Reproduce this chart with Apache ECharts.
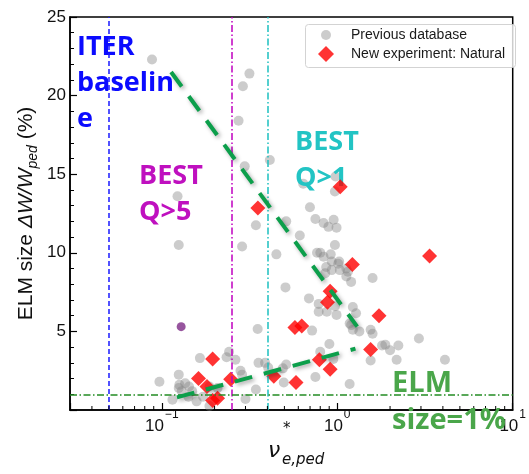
<!DOCTYPE html>
<html>
<head>
<meta charset="utf-8">
<script src="https://cdn.jsdelivr.net/npm/echarts@6/dist/echarts.min.js"></script>
<style>
  html, body { margin: 0; padding: 0; background: #fff; }
  #chart { width: 529px; height: 474px; }
</style>
</head>
<body>
<div id="chart"></div>
<script>
// ELM size vs pedestal collisionality: [nu*_e,ped, ELM size in %]
const previousDatabase = [
  [0.088, 22.3], [0.316, 21.4], [0.290, 20.6], [0.274, 18.4], [0.297, 15.5], [0.413, 15.9],
  [0.123, 13.6], [0.344, 11.75], [0.125, 10.5], [0.287, 10.4],
  [0.978, 14.85], [0.97, 13.9], [0.64, 14.4], [0.699, 12.9], [0.751, 12.15], [0.836, 11.9],
  [0.891, 11.65], [0.954, 12.1], [0.991, 11.6], [0.612, 11.1], [0.512, 12.0],
  [0.45, 9.9], [0.97, 10.5], [0.801, 10.0], [0.767, 10.0], [0.836, 9.75], [0.918, 9.9],
  [0.93, 9.45], [1.026, 9.45], [0.865, 9.1], [0.93, 8.9], [1.035, 8.9], [0.854, 8.7],
  [1.15, 8.8], [1.59, 8.4], [1.013, 9.3], [1.127, 9.0], [1.127, 8.5], [1.2, 8.15],
  [0.507, 7.8], [0.69, 7.1], [0.784, 6.75], [0.97, 6.6], [0.784, 6.25], [0.872, 6.25],
  [0.991, 6.05], [1.227, 6.55], [1.28, 6.15], [1.177, 5.5], [1.2, 5.4], [1.337, 5.0],
  [1.227, 5.1], [0.719, 5.05], [1.55, 5.1], [1.59, 4.85], [2.92, 4.55],
  [0.902, 4.2], [1.8, 4.1], [1.88, 4.15], [2.0, 3.8], [2.23, 4.1], [0.80, 3.7], [0.95, 3.25],
  [1.55, 3.15], [2.18, 3.2], [4.11, 3.2], [0.512, 2.9], [0.356, 3.0], [0.751, 2.1],
  [0.496, 1.75], [1.177, 1.65],
  [0.352, 5.15], [0.242, 3.7], [0.234, 3.35], [0.263, 3.2], [0.165, 3.3], [0.281, 2.5],
  [0.287, 2.25], [0.388, 3.0], [0.404, 2.7], [0.49, 2.65],
  [0.125, 2.25], [0.097, 1.8], [0.126, 1.6], [0.136, 1.7], [0.143, 1.5], [0.13, 1.2],
  [0.149, 1.2], [0.142, 0.85], [0.158, 0.55], [0.172, 0.85], [0.115, 0.65], [0.187, 0.25],
  [0.125, 1.4], [0.187, 1.5], [0.208, 1.4], [0.30, 0.7], [0.344, 1.3]
];

const naturalElms = [
  [1.04, 14.2], [0.353, 12.85], [3.36, 9.8], [1.22, 9.25], [0.911, 7.55], [0.88, 6.85],
  [1.73, 6.0], [0.574, 5.25], [0.628, 5.35], [1.55, 3.85], [0.791, 3.2], [0.911, 2.6],
  [0.435, 2.15], [0.582, 1.75], [0.195, 3.25], [0.162, 2.0], [0.181, 1.5], [0.195, 0.6],
  [0.208, 0.75], [0.247, 1.95]
];

const highlightedShot = [[0.129, 5.3]];

// Trend guides (start, end)
const trendDecreasing = [[0.113, 21.5], [1.3, 5.3]];
const trendIncreasing = [[0.122, 0.8], [1.27, 3.9]];

// Reference levels
const iterBaselineNu = 0.05;
const bestQ5Nu = 0.25;
const bestQ1Nu = 0.4;
const elmSizeLimit = 1;

// Axis ranges and ticks
const xRange = [0.03, 10];
const yRange = [0, 25];
const yTickStep = 5;
const xMinorTicks = [0.04, 0.05, 0.06, 0.07, 0.08, 0.09,
                     0.2, 0.3, 0.4, 0.5, 0.6, 0.7, 0.8, 0.9,
                     2, 3, 4, 5, 6, 7, 8, 9];

const legendNames = ['Previous database', 'New experiment: Natural'];

const chart = echarts.init(document.getElementById('chart'));

function powerLabel(v) {
  const lg = Math.log10(v);
  const e = Math.round(lg);
  if (Math.abs(lg - e) > 1e-6) return '';
  return '{b|10}{sup|' + (e < 0 ? '\u2212' + (-e) : e) + '}';
}

const annoFont = '"Open Sans", "DejaVu Sans", sans-serif';
const labelFont = '"Liberation Sans", Arial, sans-serif';

chart.setOption({
  animation: false,
  backgroundColor: '#fff',
  grid: {
    left: 70, right: 8, top: 17, bottom: 64,
    show: true, borderColor: '#000', borderWidth: 1.5, backgroundColor: 'transparent'
  },
  legend: [
    {
      data: [{ name: legendNames[0], icon: 'circle' }],
      selectedMode: false,
      left: 321, top: 27, padding: 0,
      itemWidth: 10, itemHeight: 10,
      textStyle: { fontSize: 14, fontFamily: labelFont, color: '#1a1a1a', padding: [0, 0, 0, 15], lineHeight: 16 }
    },
    {
      data: [{ name: legendNames[1], icon: 'diamond' }],
      selectedMode: false,
      left: 318, top: 46, padding: 0,
      itemWidth: 16, itemHeight: 16,
      textStyle: { fontSize: 14, fontFamily: labelFont, color: '#1a1a1a', padding: [0, 0, 0, 12], lineHeight: 16 }
    }
  ],
  xAxis: {
    type: 'log', logBase: 10, min: xRange[0], max: xRange[1],
    axisLine: { lineStyle: { color: '#000', width: 1.5 } },
    axisTick: { inside: true, length: 7, lineStyle: { color: '#000', width: 1.2 } },
    splitLine: { show: false },
    axisLabel: {
      formatter: powerLabel, margin: -2, color: '#111',
      fontFamily: labelFont,
      rich: {
        b: { fontSize: 17, lineHeight: 36, fontFamily: labelFont, color: '#111' },
        sup: { fontSize: 12, verticalAlign: 'top', lineHeight: 12, fontFamily: labelFont, color: '#111', padding: [1, 0, 0, 1] }
      }
    }
  },
  yAxis: {
    type: 'value', min: yRange[0], max: yRange[1], interval: yTickStep,
    axisLine: { show: true, lineStyle: { color: '#000', width: 1.5 } },
    axisTick: { show: true, inside: true, length: 7, lineStyle: { color: '#000', width: 1.2 } },
    minorTick: { show: true, splitNumber: 5, length: 4, lineStyle: { color: '#000', width: 1 } },
    splitLine: { show: false },
    axisLabel: {
      showMinLabel: false, margin: 4, fontSize: 17, color: '#111',
      fontFamily: labelFont,
      formatter: v => (v === 0 ? '' : String(v))
    },
    name: 'ELM size {it|\u0394W/W}{sub|ped} (%)',
    nameLocation: 'middle', nameRotate: 90, nameGap: 30, nameMoveOverlap: false,
    nameTextStyle: {
      fontSize: 21, color: '#111', fontFamily: labelFont, lineHeight: 27,
      rich: {
        it: { fontSize: 21, fontStyle: 'italic', color: '#111', fontFamily: labelFont },
        sub: { fontSize: 14, fontStyle: 'italic', verticalAlign: 'bottom', color: '#111', fontFamily: labelFont }
      }
    }
  },
  series: [
    {
      name: legendNames[0], type: 'scatter', data: previousDatabase,
      symbol: 'circle', symbolSize: 10, z: 2,
      itemStyle: { color: 'rgba(128,128,128,0.5)' }
    },
    {
      name: 'Highlighted shot', type: 'scatter', data: highlightedShot,
      symbol: 'circle', symbolSize: 9, z: 2,
      itemStyle: { color: '#7d2b86' },
      markLine: {
        silent: true, symbol: ['none', 'none'], label: { show: false },
        data: [
          { xAxis: iterBaselineNu, lineStyle: { color: '#1a1aff', type: [5, 3], width: 1.5 } },
          { xAxis: bestQ5Nu, lineStyle: { color: '#c000c0', type: [7, 2.5, 1.5, 2.5], width: 1.5 } },
          { xAxis: bestQ1Nu, lineStyle: { color: '#1cc0c0', type: [7, 2.5, 1.5, 2.5], width: 1.5 } },
          { yAxis: elmSizeLimit, lineStyle: { color: '#238c23', type: [7, 2.5, 1.5, 2.5], width: 1.5 } }
        ]
      }
    },
    {
      name: legendNames[1], type: 'scatter', data: naturalElms,
      symbol: 'diamond', symbolSize: [15, 15], z: 4,
      itemStyle: { color: '#ff0000' }
    },
    {
      name: 'Trend decreasing', type: 'line', data: trendDecreasing, symbol: 'none', z: 5, silent: true,
      lineStyle: { color: '#0c9f4b', width: 4, type: [18, 12], shadowColor: 'rgba(0,0,0,0.35)', shadowBlur: 4, shadowOffsetX: 2, shadowOffsetY: 2 }
    },
    {
      name: 'Trend increasing', type: 'line', data: trendIncreasing, symbol: 'none', z: 5, silent: true,
      lineStyle: { color: '#0c9f4b', width: 4, type: [18, 12], shadowColor: 'rgba(0,0,0,0.35)', shadowBlur: 4, shadowOffsetX: 2, shadowOffsetY: 2 }
    },
    {
      name: 'Minor x ticks', type: 'custom', data: xMinorTicks.map(v => [v, yRange[0]]),
      silent: true, clip: false, z: 6,
      renderItem: (params, api) => {
        const p = api.coord([api.value(0), api.value(1)]);
        return {
          type: 'line',
          shape: { x1: p[0], y1: p[1], x2: p[0], y2: p[1] - 4 },
          style: { stroke: '#000', lineWidth: 1 }
        };
      }
    }
  ],
  graphic: [
    {
      type: 'rect', z: 1, silent: true,
      shape: { x: 305.5, y: 24.5, width: 210, height: 43, r: 3 },
      style: { fill: 'rgba(255,255,255,0.8)', stroke: '#d3d3d3', lineWidth: 1 }
    },
    {
      type: 'text', z: 3, silent: true, x: 77, y: 29,
      style: { text: 'ITER\nbaselin\ne', font: 'bold 27px ' + annoFont, fill: '#0b0bff', lineHeight: 36, verticalAlign: 'top' }
    },
    {
      type: 'text', z: 3, silent: true, x: 139, y: 158,
      style: { text: 'BEST\nQ>5', font: 'bold 27px ' + annoFont, fill: '#bf10bf', lineHeight: 36, verticalAlign: 'top' }
    },
    {
      type: 'text', z: 3, silent: true, x: 295, y: 124,
      style: { text: 'BEST\nQ>1', font: 'bold 27px ' + annoFont, fill: '#22c4c4', lineHeight: 36, verticalAlign: 'top' }
    },
    {
      type: 'text', z: 7, silent: true, x: 392, y: 365,
      style: { text: 'ELM\nsize=1%', font: 'bold 29px ' + annoFont, fill: '#4aa64a', lineHeight: 37, verticalAlign: 'top' }
    },
    {
      type: 'text', z: 7, silent: true, x: 268, y: 451,
      style: { text: '\u03bd', font: 'italic 22px "DejaVu Sans", sans-serif', fill: '#111', verticalAlign: 'middle' }
    },
    {
      type: 'text', z: 7, silent: true, x: 283, y: 429,
      style: { text: '*', font: 'italic 15px "DejaVu Sans", sans-serif', fill: '#111', verticalAlign: 'middle' }
    },
    {
      type: 'text', z: 7, silent: true, x: 282, y: 460,
      style: { text: 'e,ped', font: 'italic 15px "DejaVu Sans", sans-serif', fill: '#111', verticalAlign: 'middle' }
    }
  ]
});
</script>
</body>
</html>
